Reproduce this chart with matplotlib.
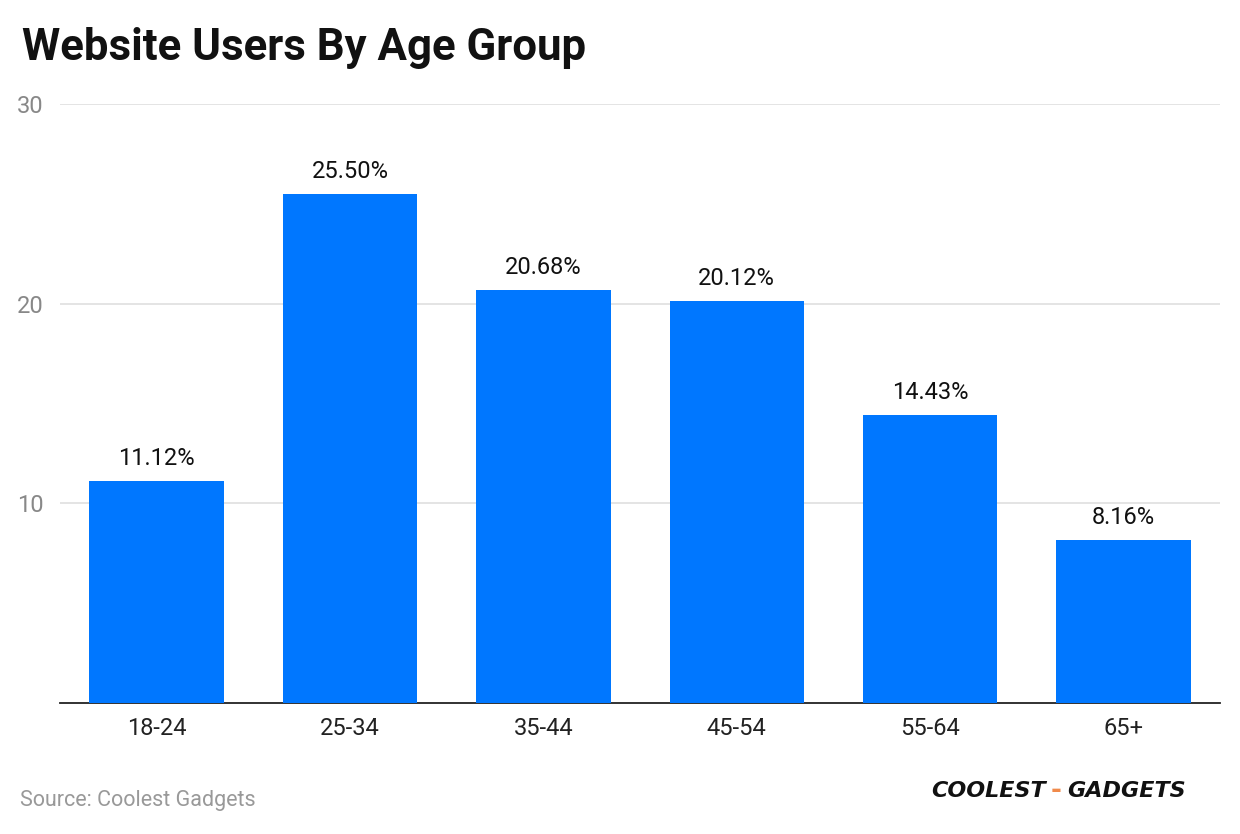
"""Website users by age group bar chart."""
import matplotlib
matplotlib.use("Agg")
import matplotlib.pyplot as plt

age_groups = ["18-24", "25-34", "35-44", "45-54", "55-64", "65+"]
user_share = [11.12, 25.50, 20.68, 20.12, 14.43, 8.16]
y_ticks = [10, 20, 30]

plt.rcParams["font.family"] = ["Roboto", "DejaVu Sans"]

fig = plt.figure(figsize=(12.4, 8.34), dpi=100)
ax = fig.add_axes([0.0484, 0.157, 0.9355, 0.718])

x = range(len(age_groups))
ax.bar(x, user_share, width=0.695, color="#0077FF", zorder=3)
for xi, v in zip(x, user_share):
    ax.annotate(f"{v:.2f}%", (xi, v), xytext=(0, 8), textcoords="offset points",
                ha="center", va="bottom", fontsize=17, color="#111111")

ax.set_xlim(-0.5, len(age_groups) - 0.5)
ax.set_ylim(0, 30)
ax.set_yticks(y_ticks)
ax.set_yticklabels([str(t) for t in y_ticks])
ax.set_xticks(list(x))
ax.set_xticklabels(age_groups)
ax.grid(axis="y", color="#E2E2E2", linewidth=1.3, zorder=0)
for side in ["top", "right", "left"]:
    ax.spines[side].set_visible(False)
ax.spines["bottom"].set_color("#222222")
ax.spines["bottom"].set_linewidth(1.3)
ax.tick_params(axis="y", length=0, pad=12, labelsize=17, labelcolor="#888888")
ax.tick_params(axis="x", length=0, pad=10, labelsize=17, labelcolor="#222222")

fig.text(0.018, 0.943, "Website Users By Age Group", fontsize=31.5, fontweight="bold",
         ha="left", va="center", color="#111111")
fig.text(0.016, 0.04, "Source: Coolest Gadgets", fontsize=15.5, color="#999999",
         ha="left", va="center")

# logo approximation
fig.text(0.843, 0.051, "COOLEST", fontsize=16, fontweight="heavy", style="italic",
         family="DejaVu Sans", color="#111111", ha="right", va="center")
fig.text(0.852, 0.051, "-", fontsize=19, fontweight="heavy", family="DejaVu Sans",
         color="#F08A4B", ha="center", va="center")
fig.text(0.861, 0.051, "GADGETS", fontsize=16, fontweight="heavy", style="italic",
         family="DejaVu Sans", color="#111111", ha="left", va="center")

fig.savefig("out.png", dpi=100)
